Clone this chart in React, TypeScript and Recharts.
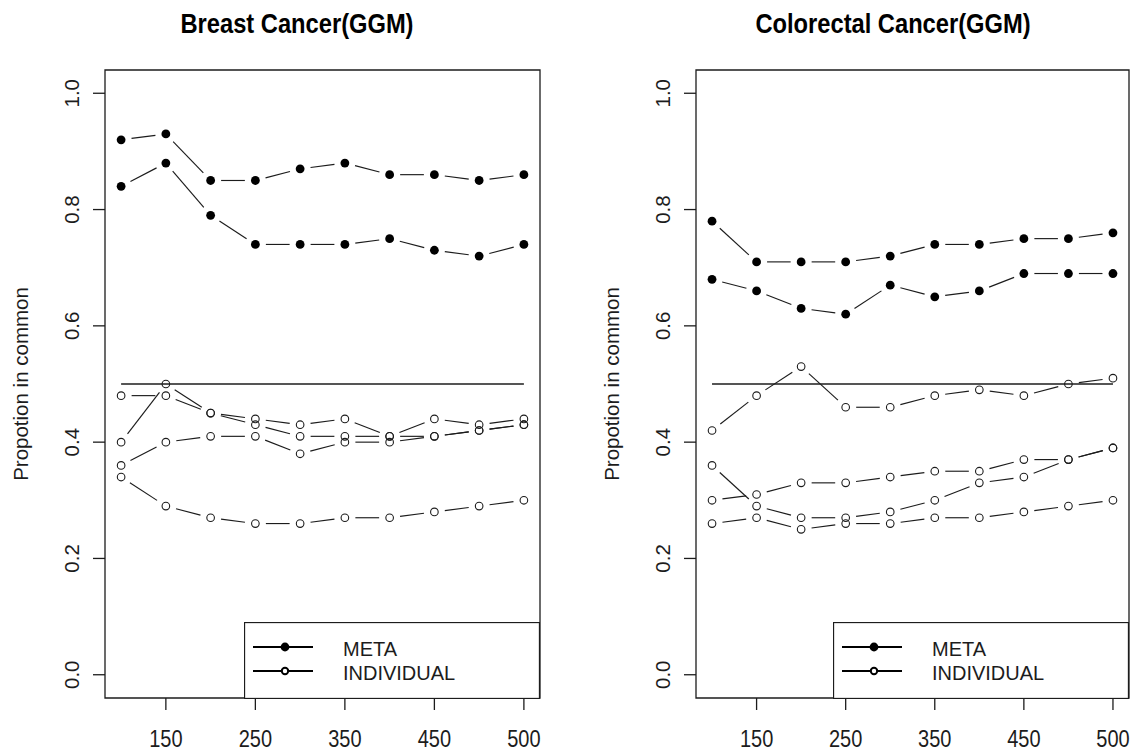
import { LineChart, Line, XAxis, YAxis, ReferenceLine, ReferenceArea, Legend, Label } from 'recharts'

// x positions of the points (sample size steps), only some are labelled on the axis
const xPos = [1, 2, 3, 4, 5, 6, 7, 8, 9, 10]
const xTickPos = [2, 4, 6, 8, 10]
const xTickLabels = ['150', '250', '350', '450', '500']
const yTicks = [0, 0.2, 0.4, 0.6, 0.8, 1.0]
const halfLine = 0.5

const breastMeta1 = [0.92, 0.93, 0.85, 0.85, 0.87, 0.88, 0.86, 0.86, 0.85, 0.86]
const breastMeta2 = [0.84, 0.88, 0.79, 0.74, 0.74, 0.74, 0.75, 0.73, 0.72, 0.74]
const breastInd1 = [0.48, 0.48, 0.45, 0.44, 0.43, 0.44, 0.41, 0.44, 0.43, 0.44]
const breastInd2 = [0.4, 0.5, 0.45, 0.43, 0.41, 0.41, 0.41, 0.41, 0.42, 0.43]
const breastInd3 = [0.36, 0.4, 0.41, 0.41, 0.38, 0.4, 0.4, 0.41, 0.42, 0.43]
const breastInd4 = [0.34, 0.29, 0.27, 0.26, 0.26, 0.27, 0.27, 0.28, 0.29, 0.3]

const crcMeta1 = [0.78, 0.71, 0.71, 0.71, 0.72, 0.74, 0.74, 0.75, 0.75, 0.76]
const crcMeta2 = [0.68, 0.66, 0.63, 0.62, 0.67, 0.65, 0.66, 0.69, 0.69, 0.69]
const crcInd1 = [0.42, 0.48, 0.53, 0.46, 0.46, 0.48, 0.49, 0.48, 0.5, 0.51]
const crcInd2 = [0.3, 0.31, 0.33, 0.33, 0.34, 0.35, 0.35, 0.37, 0.37, 0.39]
const crcInd3 = [0.36, 0.29, 0.27, 0.27, 0.28, 0.3, 0.33, 0.34, 0.37, 0.39]
const crcInd4 = [0.26, 0.27, 0.25, 0.26, 0.26, 0.27, 0.27, 0.28, 0.29, 0.3]

const FONT = "'Liberation Sans', Arial, sans-serif"
const INK = '#1c1c1c'
const STRETCH = 1.16 // reference text is taller than it is wide
const GAP = 10.5 // R type="b": segments stop short of the points
const X_DOMAIN: [number, number] = [0.64, 10.36]
const Y_DOMAIN: [number, number] = [-0.04, 1.04]

const buildRows = (meta: number[][], ind: number[][]) =>
  xPos.map((x, i) => {
    const row: Record<string, number> = { x }
    meta.forEach((s, k) => (row[`meta${k}`] = s[i]))
    ind.forEach((s, k) => (row[`ind${k}`] = s[i]))
    return row
  })

const breastRows = buildRows([breastMeta1, breastMeta2], [breastInd1, breastInd2, breastInd3, breastInd4])
const crcRows = buildRows([crcMeta1, crcMeta2], [crcInd1, crcInd2, crcInd3, crcInd4])

// point + the gapped segment towards the next point
function makeDot(filled: boolean) {
  return (props: any) => {
    const { cx, cy, index, points } = props
    const next = points?.[index + 1]
    let seg = null
    if (next && cx != null && next.x != null) {
      const dx = next.x - cx
      const dy = next.y - cy
      const len = Math.hypot(dx, dy)
      if (len > 2 * GAP) {
        const ux = dx / len
        const uy = dy / len
        seg = (
          <line
            x1={cx + ux * GAP}
            y1={cy + uy * GAP}
            x2={next.x - ux * GAP}
            y2={next.y - uy * GAP}
            stroke={INK}
            strokeWidth={1.15}
          />
        )
      }
    }
    return (
      <g key={`dot-${index}`}>
        {seg}
        {filled ? (
          <circle cx={cx} cy={cy} r={4.4} fill="#000" />
        ) : (
          <circle cx={cx} cy={cy} r={3.8} fill="none" stroke={INK} strokeWidth={1.1} />
        )}
      </g>
    )
  }
}

const filledDot = makeDot(true)
const openDot = makeDot(false)

// horizontal text, stretched vertically about its baseline
const tallText = (x: number, y: number, k = STRETCH) =>
  `translate(${x} ${y}) scale(1 ${k}) translate(${-x} ${-y})`

const XTick = ({ x, y, payload }: any) => {
  const base = y + 15.5
  return (
    <text x={x} y={base} transform={tallText(x, base)} textAnchor="middle" fill={INK} fontSize={20} fontFamily={FONT}>
      {xTickLabels[xTickPos.indexOf(payload.value)] ?? ''}
    </text>
  )
}

const YTick = ({ x, y, payload }: any) => (
  <text
    x={x}
    y={y}
    transform={`rotate(-90 ${x} ${y})`}
    textAnchor="middle"
    fill={INK}
    fontSize={20.5}
    fontFamily={FONT}
  >
    {Number(payload.value).toFixed(1)}
  </text>
)

const LegendBox = () => (
  <svg width={296} height={77} style={{ display: 'block' }}>
    <rect x={0.5} y={0.5} width={295} height={76} fill="#fff" stroke={INK} strokeWidth={1.3} />
    <line x1={9} x2={69} y1={25} y2={25} stroke="#000" strokeWidth={2.2} />
    <circle cx={41} cy={25} r={4.4} fill="#000" />
    <text x={99} y={34} transform={tallText(99, 34, 1.05)} fontSize={20} fontFamily={FONT} fill={INK}>
      META
    </text>
    <line x1={9} x2={69} y1={49} y2={49} stroke="#000" strokeWidth={2.2} />
    <circle cx={41} cy={49} r={3.2} fill="#fff" stroke="#000" strokeWidth={2} />
    <text x={99} y={58} transform={tallText(99, 58, 1.05)} fontSize={20} fontFamily={FONT} fill={INK}>
      INDIVIDUAL
    </text>
  </svg>
)

interface PanelProps {
  title: string
  titleCenter: number
  rows: Record<string, number>[]
  marginLeft: number
  marginRight: number
}

function Panel({ title, titleCenter, rows, marginLeft, marginRight }: PanelProps) {
  const width = 566
  const height = 752
  const plotRight = width - marginRight
  return (
    <div style={{ position: 'relative', width, height }}>
      <svg width={width} height={50} style={{ position: 'absolute', left: 0, top: 0 }}>
        <text
          x={titleCenter}
          y={33}
          transform={tallText(titleCenter, 33)}
          textAnchor="middle"
          fontFamily={FONT}
          fontWeight="bold"
          fontSize={23.7}
          fill="#000"
        >
          {title}
        </text>
      </svg>
      <LineChart
        width={width}
        height={height}
        data={rows}
        margin={{ top: 70, right: marginRight, bottom: 0, left: marginLeft }}
      >
        <ReferenceArea
          x1={X_DOMAIN[0]}
          x2={X_DOMAIN[1]}
          y1={Y_DOMAIN[0]}
          y2={Y_DOMAIN[1]}
          fill="none"
          stroke={INK}
          strokeWidth={1.3}
          ifOverflow="visible"
        />
        <XAxis
          type="number"
          dataKey="x"
          domain={X_DOMAIN}
          allowDataOverflow
          ticks={xTickPos}
          interval={0}
          axisLine={false}
          tickLine={{ stroke: INK, strokeWidth: 1.3 }}
          tickSize={12}
          tickMargin={22}
          height={54}
          tick={<XTick />}
        />
        <YAxis
          type="number"
          domain={Y_DOMAIN}
          allowDataOverflow
          ticks={yTicks}
          interval={0}
          axisLine={false}
          tickLine={{ stroke: INK, strokeWidth: 1.3 }}
          tickSize={12}
          tickMargin={14}
          width={105}
          tick={<YTick />}
        >
          <Label
            content={({ viewBox }: any) => {
              const lx = viewBox.x + 28
              const ly = viewBox.y + viewBox.height / 2
              return (
                <text
                  x={lx}
                  y={ly}
                  transform={`rotate(-90 ${lx} ${ly})`}
                  textAnchor="middle"
                  fill={INK}
                  fontSize={20.5}
                  fontFamily={FONT}
                >
                  Propotion in common
                </text>
              )
            }}
          />
        </YAxis>
        <ReferenceLine
          segment={[
            { x: xPos[0], y: halfLine },
            { x: xPos[xPos.length - 1], y: halfLine },
          ]}
          stroke={INK}
          strokeWidth={1.3}
        />
        {['meta0', 'meta1'].map((k) => (
          <Line
            key={k}
            dataKey={k}
            stroke="none"
            dot={filledDot}
            activeDot={false}
            legendType="none"
            isAnimationActive={false}
          />
        ))}
        {['ind0', 'ind1', 'ind2', 'ind3'].map((k) => (
          <Line
            key={k}
            dataKey={k}
            stroke="none"
            dot={openDot}
            activeDot={false}
            legendType="none"
            isAnimationActive={false}
          />
        ))}
        <Legend
          layout="vertical"
          align="center"
          verticalAlign="middle"
          content={() => <LegendBox />}
          wrapperStyle={{ left: plotRight - 296, top: 698 - 76, width: 296, height: 77 }}
        />
      </LineChart>
    </div>
  )
}

export default function App() {
  return (
    <div
      style={{
        position: 'absolute',
        left: 0,
        top: 0,
        width: 1132,
        height: 752,
        display: 'flex',
        background: '#fff',
      }}
    >
      <Panel title="Breast Cancer(GGM)" titleCenter={297} rows={breastRows} marginLeft={0} marginRight={26} />
      <Panel title="Colorectal Cancer(GGM)" titleCenter={327} rows={crcRows} marginLeft={25} marginRight={3} />
    </div>
  )
}
